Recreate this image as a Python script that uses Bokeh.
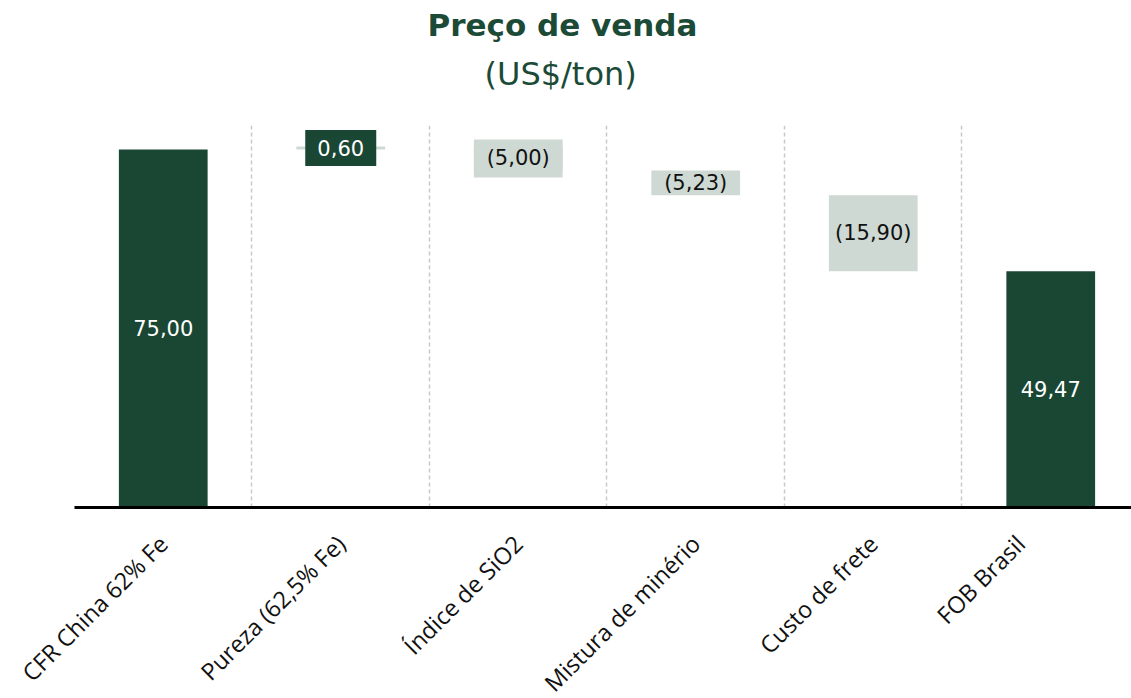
from bokeh.plotting import figure
from bokeh.models import FixedTicker, Title, ColumnDataSource
from bokeh.core.properties import value
from bokeh.embed import file_html
from bokeh.resources import INLINE

categories = ["CFR China 62% Fe", "Pureza (62,5% Fe)", "Índice de SiO2",
              "Mistura de minério", "Custo de frete", "FOB Brasil"]
values = [75.00, 0.60, -5.00, -5.23, -15.90, 49.47]
kinds = ["total", "delta", "delta", "delta", "delta", "total"]
title_text = "Preço de venda"
subtitle_text = "(US$/ton)"

DARK = "#1a4734"
LIGHT = "#cfd9d3"
TITLE_C = "#1b4a37"

n = len(categories)
xs = list(range(n))
bottoms, tops, colors, label_txt, label_col = [], [], [], [], []
running = 0.0
for v, k in zip(values, kinds):
    if k == "total":
        b, t = 0.0, v
        running = v
        colors.append(DARK)
        label_col.append("white")
    else:
        b, t = running, running + v
        running = running + v
        colors.append(LIGHT)
        label_col.append("#111111")
    bottoms.append(min(b, t))
    tops.append(max(b, t))
    s = f"{abs(v):.2f}".replace(".", ",")
    label_txt.append(f"({s})" if v < 0 else s)
label_col[1] = "white"
mids = [(b + t) / 2 for b, t in zip(bottoms, tops)]

p = figure(width=1131, height=712, x_range=(-0.5, n - 0.545), y_range=(0, 80),
           output_backend="svg", toolbar_location=None,
           min_border_left=74, min_border_right=0, min_border_bottom=192,
           min_border_top=0)
p.title = None
# spacer closest to the frame, then subtitle, then main title
p.add_layout(Title(text=" ", text_font_size="1px", standoff=23), "above")
p.add_layout(Title(text=subtitle_text, align="left", text_font="DejaVu Sans",
                   text_font_size="32px", text_font_style="normal",
                   text_color=TITLE_C, standoff=13, offset=410), "above")
p.add_layout(Title(text=title_text, align="left", text_font="DejaVu Sans",
                   text_font_size="31px", text_font_style="bold",
                   text_color=TITLE_C, standoff=8, offset=353), "above")

src = ColumnDataSource(dict(x=xs, b=bottoms, t=tops, c=colors, m=mids,
                            lab=label_txt, lc=label_col))
p.vbar(x="x", bottom="b", top="t", width=0.5, fill_color="c", line_color=None, source=src)

# label boxes (Pureza dark box, SiO2 expanded light box)
p.rect(x=[xs[1]], y=[mids[1]], width=71, height=36, width_units="screen",
       height_units="screen", fill_color=DARK, line_color=None)
p.rect(x=[xs[2]], y=[mids[2]], width=0.5, height=38, height_units="screen",
       fill_color=LIGHT, line_color=None)

p.text(x="x", y="m", text="lab", text_color="lc", source=src, text_align="center",
       text_baseline="middle", text_font=value("DejaVu Sans"), text_font_size="21px")

p.yaxis.visible = False
p.ygrid.visible = False
p.outline_line_color = None

# tick label anchor positions (last label sits a little left of its bar)
shift = [0, 0, 0, 0, 0, -0.17]
tick_pos = [x + d for x, d in zip(xs, shift)]
p.xaxis.ticker = FixedTicker(ticks=tick_pos)
p.xaxis.major_label_overrides = {t: c for t, c in zip(tick_pos, categories)}
p.xaxis.major_label_orientation = 0.785398
p.xaxis.major_label_text_font = "Open Sans"
p.xaxis.major_label_text_font_size = "23.5px"
p.xaxis.major_label_text_color = "#111111"
p.xaxis.major_tick_line_color = None
p.xaxis.minor_tick_line_color = None
p.xaxis.axis_line_color = "black"
p.xaxis.axis_line_width = 3
p.xaxis.major_label_standoff = 26

p.xgrid.ticker = FixedTicker(ticks=[i - 0.5 for i in range(n)])
p.xgrid.grid_line_color = "#c8c8c8"
p.xgrid.grid_line_dash = "4 3"
p.xgrid.grid_line_width = 1.5

open("out.html", "w").write(file_html(p, INLINE))
